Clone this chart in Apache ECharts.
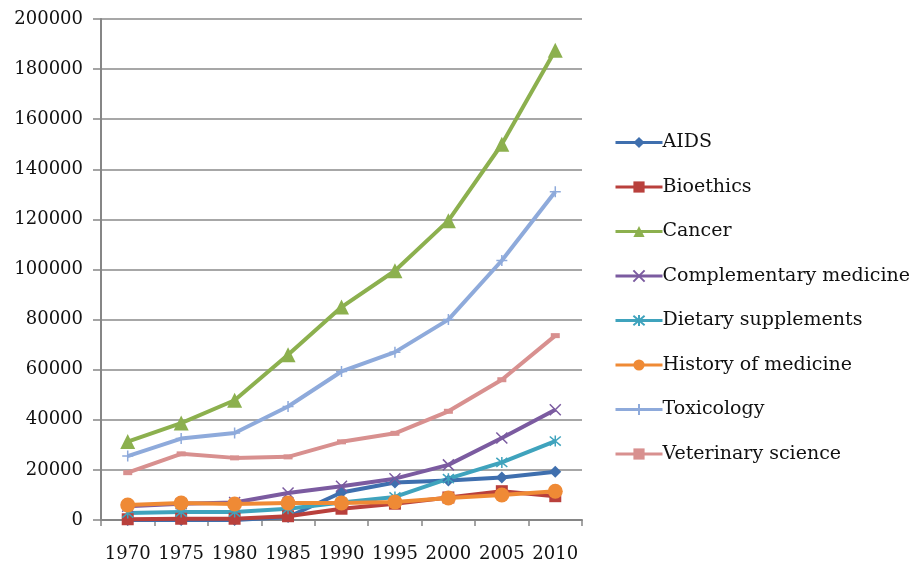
<!DOCTYPE html>
<html>
<head>
<meta charset="utf-8">
<script src="https://cdn.jsdelivr.net/npm/echarts@6/dist/echarts.min.js"></script>
<style>
  html, body { margin: 0; padding: 0; background: #ffffff; }
  #chart { width: 917px; height: 571px; }
</style>
</head>
<body>
<div id="chart"></div>
<script>
// Publication counts per subject, 1970–2010
const years = ['1970', '1975', '1980', '1985', '1990', '1995', '2000', '2005', '2010'];
const aids = [0, 0, 0, 1200, 11000, 15000, 15800, 17000, 19300];
const bioethics = [300, 500, 500, 1500, 4500, 6500, 9000, 11500, 9500];
const cancer = [31300, 38700, 47800, 66000, 85000, 99500, 119500, 150000, 187500];
const complementary = [5500, 6500, 7000, 10800, 13500, 16500, 22000, 32700, 44000];
const dietary = [2800, 3200, 3200, 4500, 7000, 9200, 16500, 23000, 31500];
const history = [6000, 6800, 6400, 6800, 6800, 7200, 8800, 10000, 11500];
const toxicology = [25500, 32500, 34700, 45300, 59300, 67000, 80000, 103600, 131000];
const veterinary = [18900, 26400, 24800, 25200, 31200, 34600, 43400, 56000, 73600];
const yTicks = [0, 20000, 40000, 60000, 80000, 100000, 120000, 140000, 160000, 180000, 200000];

const FONT = 'DejaVu Serif';
const CROSS = 'path://M0,0 L10,10 M10,0 L0,10';
const STAR = 'path://M0,0 L10,10 M10,0 L0,10 M5,-1 L5,11';
const PLUS = 'path://M5,0 L5,10 M0,5 L10,5';

function line(name, data, color, symbol, size, strokeOnly) {
  return {
    name: name,
    type: 'line',
    data: data,
    symbol: symbol,
    symbolSize: size,
    showAllSymbol: true,
    lineStyle: { color: color, width: 4 },
    itemStyle: strokeOnly
      ? { color: 'rgba(0,0,0,0)', borderColor: color, borderWidth: 1.5 }
      : { color: color, borderColor: color, borderWidth: 0 },
    emphasis: { disabled: true },
    animation: false
  };
}

const chart = echarts.init(document.getElementById('chart'));
chart.setOption({
  backgroundColor: '#ffffff',
  animation: false,
  grid: { left: 101, right: 335, top: 19, bottom: 51, containLabel: false },
  legend: {
    orient: 'vertical',
    left: 609,
    top: 128,
    itemWidth: 47,
    itemHeight: 14,
    itemGap: 25.5,
    lineStyle: { width: 3 },
    textStyle: { fontFamily: FONT, fontSize: 19, color: '#111111', padding: [0, 0, 0, -5] },
    data: ['AIDS', 'Bioethics', 'Cancer', 'Complementary medicine',
           'Dietary supplements', 'History of medicine', 'Toxicology', 'Veterinary science']
  },
  xAxis: {
    type: 'category',
    data: years,
    boundaryGap: true,
    axisLine: { lineStyle: { color: '#868686', width: 2 } },
    axisTick: { show: true, interval: 0, alignWithLabel: false, length: 6, lineStyle: { color: '#868686', width: 1.5 } },
    axisLabel: { interval: 0, fontFamily: FONT, fontSize: 18, color: '#111111', margin: 25 }
  },
  yAxis: {
    type: 'value',
    min: yTicks[0],
    max: yTicks[yTicks.length - 1],
    interval: yTicks[1] - yTicks[0],
    axisLine: { show: true, lineStyle: { color: '#868686', width: 2 } },
    axisTick: { show: true, length: 8, lineStyle: { color: '#868686', width: 1.5 } },
    splitLine: { show: true, lineStyle: { color: '#8a8a8a', width: 1.5 } },
    axisLabel: {
      fontFamily: FONT, fontSize: 18, color: '#111111', margin: 18,
      formatter: function (v) { return String(v); }
    }
  },
  series: [
    line('AIDS', aids, '#3f6fae', 'diamond', 12, false),
    line('Bioethics', bioethics, '#b9403c', 'rect', 12, false),
    line('Cancer', cancer, '#8cb04e', 'triangle', 15, false),
    line('Complementary medicine', complementary, '#7b5ba0', CROSS, 11, true),
    line('Dietary supplements', dietary, '#3fa3bd', STAR, 11, true),
    line('History of medicine', history, '#ef8a35', 'circle', 15, false),
    line('Toxicology', toxicology, '#8eaadb', PLUS, 11, true),
    line('Veterinary science', veterinary, '#d8908f', 'rect', [9, 5], false)
  ]
});
</script>
</body>
</html>
